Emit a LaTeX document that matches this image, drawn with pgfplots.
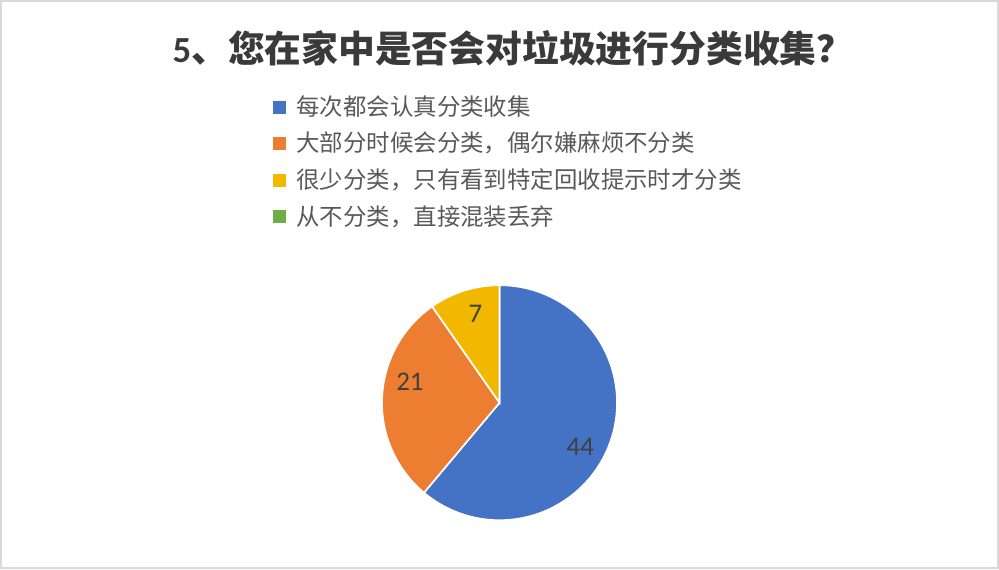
\documentclass[border=0pt]{standalone}
\usepackage{pgfplots}
\pgfplotsset{compat=1.18}
\usepackage{pgfplotstable}
\usepackage{fontspec}
\setmainfont{Carlito}
\newfontfamily\cjk{Noto Sans CJK SC}

\definecolor{pieblue}{HTML}{4472C4}
\definecolor{pieorange}{HTML}{ED7D31}
\definecolor{pieyellow}{HTML}{F2B800}
\definecolor{piegreen}{HTML}{70AD47}
\definecolor{txtgray}{HTML}{595959}
\definecolor{lblgray}{HTML}{404040}
\definecolor{titlegray}{HTML}{3A3A3A}
\definecolor{framegray}{HTML}{D9D9D9}

% answers to question 5
\pgfplotstableread{
value
44
21
7
0
}\piedata

\pgfplotstablegetelem{0}{value}\of\piedata \let\va\pgfplotsretval
\pgfplotstablegetelem{1}{value}\of\piedata \let\vb\pgfplotsretval
\pgfplotstablegetelem{2}{value}\of\piedata \let\vc\pgfplotsretval
\pgfplotstablegetelem{3}{value}\of\piedata \let\vd\pgfplotsretval

% slice angles, clockwise from 12 o'clock
\pgfmathsetmacro\tot{\va+\vb+\vc+\vd}
\pgfmathsetmacro\aA{90-360*\va/\tot}
\pgfmathsetmacro\aB{\aA-360*\vb/\tot}
\pgfmathsetmacro\aC{\aB-360*\vc/\tot}
% label angles (mid of slice, nudged like Excel's best fit)
\pgfmathsetmacro\lA{(90+\aA)/2-8.5}
\pgfmathsetmacro\lB{(\aA+\aB)/2-10.7}
\pgfmathsetmacro\lC{(\aB+\aC)/2-2.3}

\def\R{1.7625cm}   % pie radius
\def\Rl{1.38cm}    % label radius

\begin{document}
\begin{tikzpicture}
\begin{axis}[
    x=0.015cm, y=0.015cm,
    xmin=0, xmax=999, ymin=0, ymax=569,
    hide axis,
    clip=false,
    legend image code/.code={\fill[#1] (0cm,-0.09cm) rectangle (0.18cm,0.09cm);},
    legend cell align=left,
    legend style={
        at={(axis cs:273,474)}, anchor=north west,
        draw=none, fill=none, inner sep=0pt,
        font=\cjk\fontsize{10}{12}\selectfont, text=txtgray,
        row sep=5.6pt,
        nodes={inner sep=0pt, text height=8.5pt, text depth=1.5pt},
        /tikz/every odd column/.append style={column sep=0.15cm},
    },
]
\addlegendimage{pieblue}
\addlegendentry{每次都会认真分类收集}
\addlegendimage{pieorange}
\addlegendentry{大部分时候会分类，偶尔嫌麻烦不分类}
\addlegendimage{pieyellow}
\addlegendentry{很少分类，只有看到特定回收提示时才分类}
\addlegendimage{piegreen}
\addlegendentry{从不分类，直接混装丢弃}

% outer frame
\draw[framegray, line width=0.03cm] (axis cs:1,1) rectangle (axis cs:998,568);

% title
\node[font=\cjk\bfseries\fontsize{15.7}{18}\selectfont, text=titlegray]
    at (axis cs:513,521) {{\rmfamily\bfseries 5}、您在家中是否会对垃圾进行分类收集？};

% slices
\fill[pieblue, draw=white, line width=0.025cm] (axis cs:499.5,166.3) -- ++(90:\R)
    arc[start angle=90, end angle=\aA, radius=\R] -- cycle;
\fill[pieorange, draw=white, line width=0.025cm] (axis cs:499.5,166.3) -- ++(\aA:\R)
    arc[start angle=\aA, end angle=\aB, radius=\R] -- cycle;
\fill[pieyellow, draw=white, line width=0.025cm] (axis cs:499.5,166.3) -- ++(\aB:\R)
    arc[start angle=\aB, end angle=\aC, radius=\R] -- cycle;

% data labels
\path[font=\fontsize{11.5}{13}\selectfont, text=lblgray]
    (axis cs:499.5,166.3) ++(\lA:\Rl) node {\va}
    (axis cs:499.5,166.3) ++(\lB:\Rl) node {\vb}
    (axis cs:499.5,166.3) ++(\lC:\Rl) node {\vc};
\end{axis}
\end{tikzpicture}
\end{document}
